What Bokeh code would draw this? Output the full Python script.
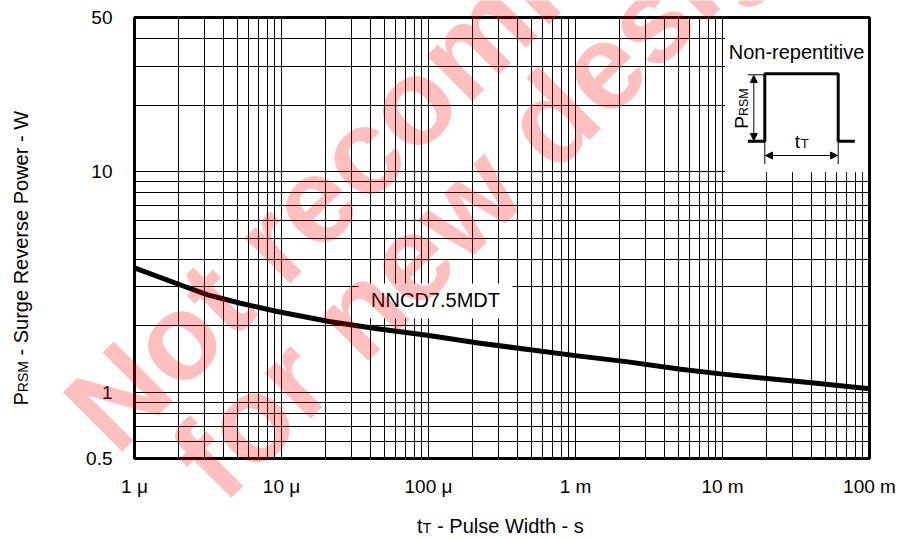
import math
from bokeh.plotting import figure
from bokeh.models import (Range1d, FixedTicker, CustomJSTickFormatter, Label,
                          Arrow, NormalHead, BoxAnnotation)
from bokeh.embed import file_html
from bokeh.resources import INLINE

# ---------------- data ----------------
pulse_width_s = [1e-6, 2.17e-6, 3.15e-6, 5.26e-6, 9.35e-6, 2.1e-5, 4.48e-5, 9.8e-5,
                 2.18e-4, 1.03e-3, 2.21e-3, 5.18e-3, 9.7e-3, 2.1e-2, 4.18e-2, 1e-1]
surge_power_w = [3.66, 3.02, 2.76, 2.53, 2.32, 2.09, 1.94, 1.81,
                 1.67, 1.46, 1.375, 1.27, 1.21, 1.15, 1.10, 1.035]
series_name = "NNCD7.5MDT"

x_min, x_max = 1e-6, 1e-1
y_min, y_max = 0.5, 50
x_tick_values = [1e-6, 1e-5, 1e-4, 1e-3, 1e-2, 1e-1]
x_tick_labels = ["1 \u03bc", "10 \u03bc", "100 \u03bc", "1 m", "10 m", "100 m"]
y_tick_values = [0.5, 1, 10, 50]
y_tick_labels = ["0.5", "1", "10", "50"]

x_grid_values = [m * 10.0 ** k for k in range(-6, -1) for m in range(1, 10)] + [1e-1]
y_grid_values = [0.6, 0.7, 0.8, 0.9] + [m * 1.0 for m in range(1, 10)] + [10, 20, 30, 40]

# ---------------- layout helpers (canvas pixel -> data) ----------------
W, H = 900, 541
FL, FR, FT, FB = 134, 869, 17, 458   # where the chart box sits on the canvas


def data_x(px):
    return x_min * (x_max / x_min) ** ((px - FL) / (FR - FL))


def data_y(py):
    return y_min * (y_max / y_min) ** ((FB - py) / (FB - FT))


FONT = "Liberation Sans"
TXT = "#000000"
BASE_SHIFT = 0.37   # em; lifts label anchors so glyph baselines land where intended

# the plotting frame spans the whole canvas, so the watermark is not clipped;
# the axes are pinned to the edges of the chart box
p = figure(width=W, height=H, x_axis_type="log", y_axis_type="log",
           x_range=Range1d(data_x(0), data_x(W)), y_range=Range1d(data_y(H), data_y(0)),
           output_backend="svg", toolbar_location=None,
           min_border_left=0, min_border_right=0, min_border_top=0, min_border_bottom=0)
p.background_fill_color = "white"
p.border_fill_color = "white"
p.outline_line_color = None

JS = """
let best = 0, bd = Infinity;
for (let i = 0; i < vals.length; i++) {
  const d = Math.abs(Math.log(tick) - Math.log(vals[i]));
  if (d < bd) { bd = d; best = i; }
}
return labs[best];
"""

xa = p.xaxis[0]
xa.ticker = FixedTicker(ticks=x_tick_values, minor_ticks=[])
xa.formatter = CustomJSTickFormatter(args=dict(vals=x_tick_values, labs=x_tick_labels), code=JS)
xa.major_label_standoff = 17
xa.fixed_location = y_min

ya = p.yaxis[0]
ya.ticker = FixedTicker(ticks=y_tick_values, minor_ticks=[])
ya.formatter = CustomJSTickFormatter(args=dict(vals=y_tick_values, labs=y_tick_labels), code=JS)
ya.major_label_standoff = 22
ya.fixed_location = x_min

for ax in (xa, ya):
    ax.axis_line_color = None
    ax.major_tick_line_color = None
    ax.minor_tick_line_color = None
    ax.major_tick_out = 0
    ax.major_tick_in = 0
    ax.minor_tick_out = 0
    ax.minor_tick_in = 0
    ax.major_label_text_font = FONT
    ax.major_label_text_font_size = "19px"
    ax.major_label_text_color = TXT

gx = p.xgrid[0]
gx.ticker = FixedTicker(ticks=x_grid_values, minor_ticks=[])
gx.cross_bounds = (y_min, y_max)
gy = p.ygrid[0]
gy.ticker = FixedTicker(ticks=y_grid_values, minor_ticks=[])
gy.cross_bounds = (x_min, x_max)
for g in (gx, gy):
    g.grid_line_color = "black"
    g.grid_line_width = 1
    g.grid_line_alpha = 1.0

# white boxes (inset and curve label background)
p.quad(left=[data_x(724.5)], right=[x_max], top=[y_max], bottom=[data_y(171.8)],
       fill_color="white", line_color=None)
p.quad(left=[data_x(358)], right=[data_x(512)], top=[data_y(283)], bottom=[data_y(318)],
       fill_color="white", line_color=None)

# main curve
p.line(pulse_width_s, surge_power_w, line_width=5, line_color="black", line_join="round")

# inset pulse diagram
p.line([data_x(747.3), data_x(764.3), data_x(764.3), data_x(837.7), data_x(837.7), data_x(854.3)],
       [data_y(140.7), data_y(140.7), data_y(73.3), data_y(73.3), data_y(140.7), data_y(140.7)],
       line_width=3, line_color="black")
p.multi_line([[data_x(747.3), data_x(764.3)],
              [data_x(764.3), data_x(764.3)],
              [data_x(837.7), data_x(837.7)]],
             [[data_y(74.3), data_y(74.3)],
              [data_y(140.7), data_y(163.5)],
              [data_y(140.7), data_y(163.5)]],
             line_width=1, line_color="black")
p.add_layout(Arrow(x_start=data_x(753.3), y_start=data_y(75), x_end=data_x(753.3), y_end=data_y(140),
                   line_width=1, line_color="black",
                   start=NormalHead(size=7, fill_color="black", line_color="black"),
                   end=NormalHead(size=7, fill_color="black", line_color="black")))
p.add_layout(Arrow(x_start=data_x(765), y_start=data_y(155), x_end=data_x(837), y_end=data_y(155),
                   line_width=1, line_color="black",
                   start=NormalHead(size=7, fill_color="black", line_color="black"),
                   end=NormalHead(size=7, fill_color="black", line_color="black")))

# chart box border
p.add_layout(BoxAnnotation(left=x_min, right=x_max, bottom=y_min, top=y_max,
                           fill_alpha=0, line_color="black", line_width=3, line_alpha=1.0))


def lab(px, py, text, size, align="left", angle=0.0, color=TXT, alpha=1.0, style="normal"):
    s = BASE_SHIFT * size
    px -= math.sin(angle) * s
    py -= math.cos(angle) * s
    p.add_layout(Label(x=data_x(px), y=data_y(py), text=text, text_font=FONT,
                       text_font_size=f"{size}px", text_color=color, text_alpha=alpha,
                       text_font_style=style, text_align=align,
                       text_baseline="alphabetic", angle=angle))


lab(796, 58.5, "Non-repentitive", 20, align="center")
lab(748.3, 128.3, "P", 19, angle=math.pi / 2)
lab(748.3, 115.6, "RSM", 12.5, angle=math.pi / 2)
lab(794.3, 147.7, "t", 19)
lab(800.3, 147.7, "T", 13)

lab(435, 307, series_name, 20, align="center")

# axis titles
lab(416.5, 533, "t", 20)
lab(422.3, 533, "T", 14)
lab(436.6, 533, "- Pulse Width - s", 20)
lab(27.5, 405, "P", 20, angle=math.pi / 2)
lab(27.5, 391.7, "RSM", 14, angle=math.pi / 2)
lab(27.5, 355, "- Surge Reverse Power - W", 20, angle=math.pi / 2)

# watermark (drawn over the chart)
lab(118.1, 458.9, "Not recommended", 122, angle=math.radians(45),
    color="red", alpha=0.25, style="bold")
lab(224.9, 507.7, "for new design", 122, angle=math.radians(45),
    color="red", alpha=0.25, style="bold")

open("out.html", "w").write(file_html(p, INLINE))
